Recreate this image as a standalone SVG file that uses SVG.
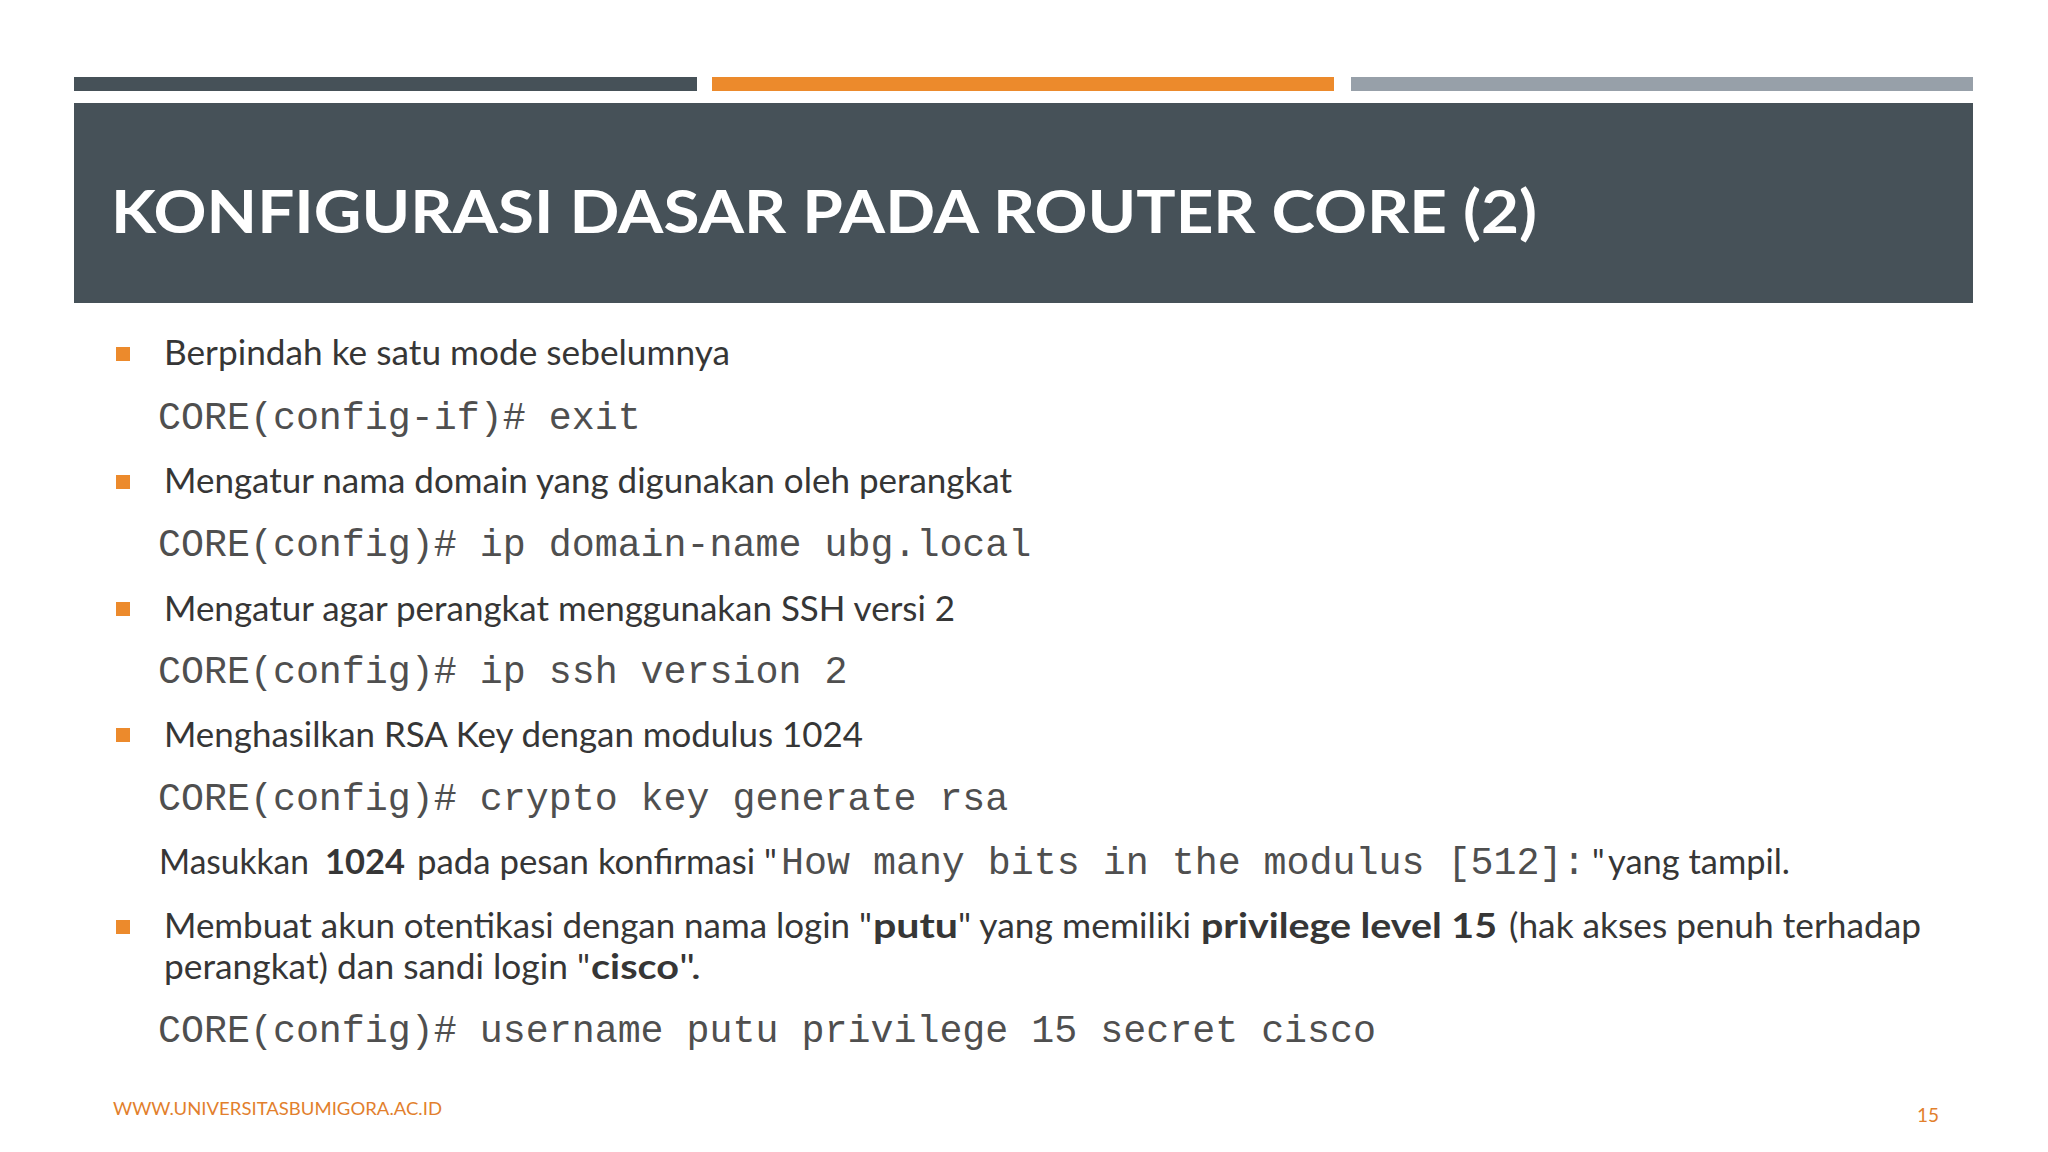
<svg xmlns="http://www.w3.org/2000/svg" width="2048" height="1152" viewBox="0 0 2048 1152">
<style>
.body{font-family:Lato,"Open Sans","Liberation Sans",sans-serif;font-size:34px;fill:#363636}
.b{font-weight:bold}
.code{font-family:"Liberation Mono","DejaVu Sans Mono",monospace;font-size:38.3px;fill:#4f4f4f}
.bul{fill:#EC8A2C}
.foot{font-family:Lato,"Liberation Sans",sans-serif;fill:#E27F2D}
</style>
<rect width="2048" height="1152" fill="#ffffff"/>
<g id="topbars">
<rect x="74" y="77" width="623" height="14" fill="#465158"/>
<rect x="712" y="77" width="622" height="14" fill="#EC8A2C"/>
<rect x="1351" y="77" width="622" height="14" fill="#97A0A9"/>
</g>
<g id="title">
<rect x="74" y="103" width="1899" height="200" fill="#465158"/>
<text x="111" y="233" font-family="Lato,'Open Sans','Liberation Sans',sans-serif" font-weight="bold" font-size="60" fill="#ffffff" textLength="1426" lengthAdjust="spacingAndGlyphs">KONFIGURASI DASAR PADA ROUTER CORE (2)</text>
</g>
<g id="content">
<rect class="bul" x="116" y="347" width="14" height="14"/>
<text class="body" x="164" y="365" textLength="566" lengthAdjust="spacingAndGlyphs">Berpindah ke satu mode sebelumnya</text>
<text class="code" x="158" y="429">CORE(config-if)# exit</text>

<rect class="bul" x="116" y="475" width="14" height="14"/>
<text class="body" x="164" y="493" textLength="848" lengthAdjust="spacingAndGlyphs">Mengatur nama domain yang digunakan oleh perangkat</text>
<text class="code" x="158" y="556">CORE(config)# ip domain-name ubg.local</text>

<rect class="bul" x="116" y="602" width="14" height="14"/>
<text class="body" x="164" y="621" textLength="791" lengthAdjust="spacingAndGlyphs">Mengatur agar perangkat menggunakan SSH versi 2</text>
<text class="code" x="158" y="683">CORE(config)# ip ssh version 2</text>

<rect class="bul" x="116" y="728" width="14" height="14"/>
<text class="body" x="164" y="747" textLength="699" lengthAdjust="spacingAndGlyphs">Menghasilkan RSA Key dengan modulus 1024</text>
<text class="code" x="158" y="810">CORE(config)# crypto key generate rsa</text>

<text class="body" x="159" y="874" textLength="150" lengthAdjust="spacingAndGlyphs">Masukkan</text>
<text class="body b" x="325" y="874" textLength="80" lengthAdjust="spacingAndGlyphs">1024</text>
<text class="body" x="417" y="874" textLength="360" lengthAdjust="spacingAndGlyphs">pada pesan konfirmasi "</text>
<text class="code" x="781" y="874">How many bits in the modulus [512]:</text>
<text class="body" x="1592" y="874">"</text>
<text class="body" x="1608" y="874" textLength="182" lengthAdjust="spacingAndGlyphs">yang tampil.</text>

<rect class="bul" x="116" y="920" width="14" height="14"/>
<text class="body" x="164" y="938" textLength="708" lengthAdjust="spacingAndGlyphs">Membuat akun otentikasi dengan nama login "</text>
<text class="body b" x="873" y="938" textLength="85" lengthAdjust="spacingAndGlyphs">putu</text>
<text class="body" x="958" y="938" textLength="233" lengthAdjust="spacingAndGlyphs">" yang memiliki</text>
<text class="body b" x="1201" y="938" textLength="296" lengthAdjust="spacingAndGlyphs">privilege level 15</text>
<text class="body" x="1509" y="938" textLength="412" lengthAdjust="spacingAndGlyphs">(hak akses penuh terhadap</text>
<text class="body" x="164" y="979" textLength="426" lengthAdjust="spacingAndGlyphs">perangkat) dan sandi login "</text>
<text class="body b" x="591" y="979" textLength="88" lengthAdjust="spacingAndGlyphs">cisco</text>
<text class="body" x="679" y="979" textLength="22" lengthAdjust="spacingAndGlyphs">".</text>
<text class="code" x="158" y="1042">CORE(config)# username putu privilege 15 secret cisco</text>
</g>
<g id="footer">
<text class="foot" x="113" y="1115" font-size="17" textLength="329" lengthAdjust="spacingAndGlyphs">WWW.UNIVERSITASBUMIGORA.AC.ID</text>
<text class="foot" x="1917" y="1122" font-size="19">15</text>
</g>
</svg>
